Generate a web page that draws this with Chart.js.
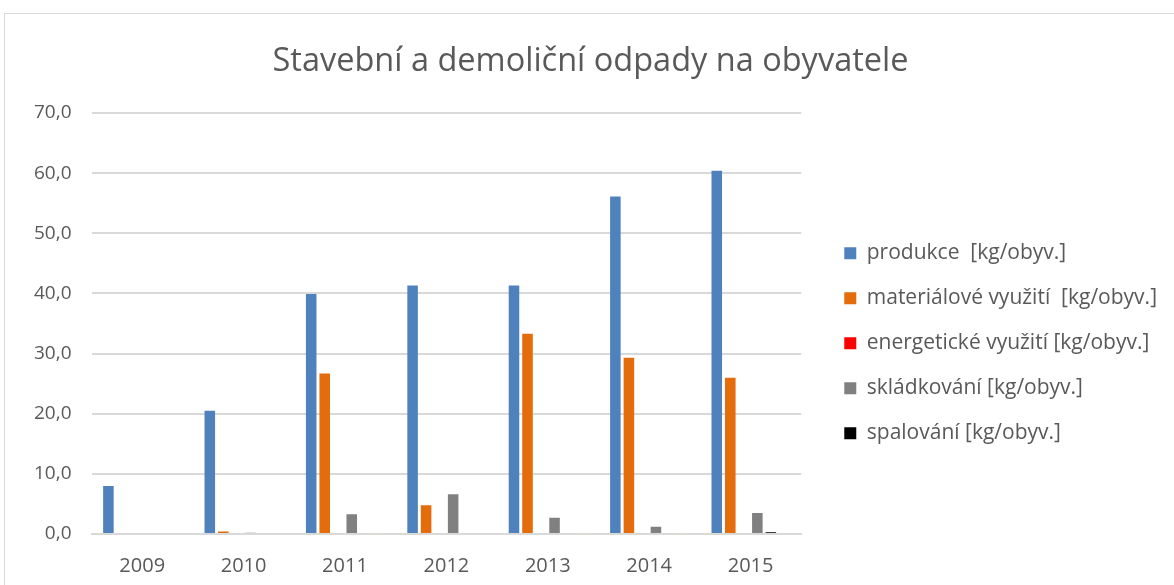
<!DOCTYPE html>
<html>
<head>
<meta charset="utf-8">
<script src="https://cdn.jsdelivr.net/npm/chart.js@4"></script>
<style>
  html, body { margin: 0; padding: 0; background: #fff; overflow: hidden; }
  #frame { position: absolute; left: 4px; top: 13px; width: 1200px; height: 600px; border: 1px solid #d9d9d9; }
  #wrap { position: absolute; left: 0; top: 0; width: 1174px; height: 598px; }
</style>
</head>
<body>
<div id="frame"></div>
<div id="wrap"><canvas id="wasteChart"></canvas></div>
<script>
const years = ['2009', '2010', '2011', '2012', '2013', '2014', '2015'];
const produkce = [8.0, 20.5, 39.9, 41.3, 41.3, 56.1, 60.4];
const materialove = [0, 0.4, 26.7, 4.8, 33.3, 29.3, 26.0];
const energeticke = [0, 0, 0.15, 0.15, 0.15, 0.15, 0.15];
const skladkovani = [0, 0.2, 3.3, 6.6, 2.7, 1.2, 3.5];
const spalovani = [0, 0, 0, 0, 0, 0, 0.3];
const ostatni = [0, 0, 0.1, 0, 0.1, 0.1, 0];
const yTicks = [0, 10, 20, 30, 40, 50, 60, 70];

const font = '"Open Sans", sans-serif';
const grey = '#595959';

const ctx = document.getElementById('wasteChart').getContext('2d');
const mk = (label, data, color) => ({
  label: label,
  data: data,
  backgroundColor: color,
  barPercentage: 0.78,
  categoryPercentage: 0.8
});

new Chart(ctx, {
  type: 'bar',
  data: {
    labels: years,
    datasets: [
      mk('produkce  [kg/obyv.]', produkce, '#4f81bd'),
      mk('materiálové využití  [kg/obyv.]', materialove, '#e46c0a'),
      mk('energetické využití [kg/obyv.]', energeticke, '#ff0000'),
      mk('skládkování [kg/obyv.]', skladkovani, '#808080'),
      mk('spalování [kg/obyv.]', spalovani, '#000000'),
      mk('', ostatni, '#d7e4bd')
    ]
  },
  options: {
    responsive: true,
    maintainAspectRatio: false,
    animation: false,
    layout: { padding: { left: 14, right: 7, top: 42, bottom: 0 } },
    plugins: {
      title: {
        display: true,
        text: 'Stavební a demoliční odpady na obyvatele',
        color: grey,
        font: { family: font, size: 32.5, weight: 'normal' },
        padding: { top: 0, bottom: 32 }
      },
      legend: {
        position: 'right',
        maxWidth: 400,
        title: { display: true, text: ' ', font: { size: 2 }, padding: { top: 0, bottom: 44 } },
        labels: {
          color: grey,
          font: { family: font, size: 21 },
          boxWidth: 12,
          boxHeight: 12,
          padding: 24,
          filter: item => item.text !== ''
        }
      },
      tooltip: { enabled: false }
    },
    scales: {
      x: {
        grid: { display: false, drawTicks: false },
        border: { color: '#d9d9d9', width: 2 },
        ticks: { color: grey, font: { family: font, size: 20 }, padding: 20 }
      },
      y: {
        min: 0,
        max: 70,
        afterBuildTicks: axis => { axis.ticks = yTicks.map(v => ({ value: v })); },
        grid: { color: '#d9d9d9', lineWidth: 2, drawTicks: false },
        border: { display: false },
        ticks: {
          color: grey,
          font: { family: font, size: 19 },
          padding: 20,
          callback: v => v.toFixed(1).replace('.', ',')
        }
      },
      gap: {
        type: 'linear',
        position: 'right',
        grid: { display: false, drawTicks: false },
        border: { display: false },
        ticks: { display: false },
        afterFit: s => { s.width = 19; }
      }
    }
  }
});
</script>
</body>
</html>
